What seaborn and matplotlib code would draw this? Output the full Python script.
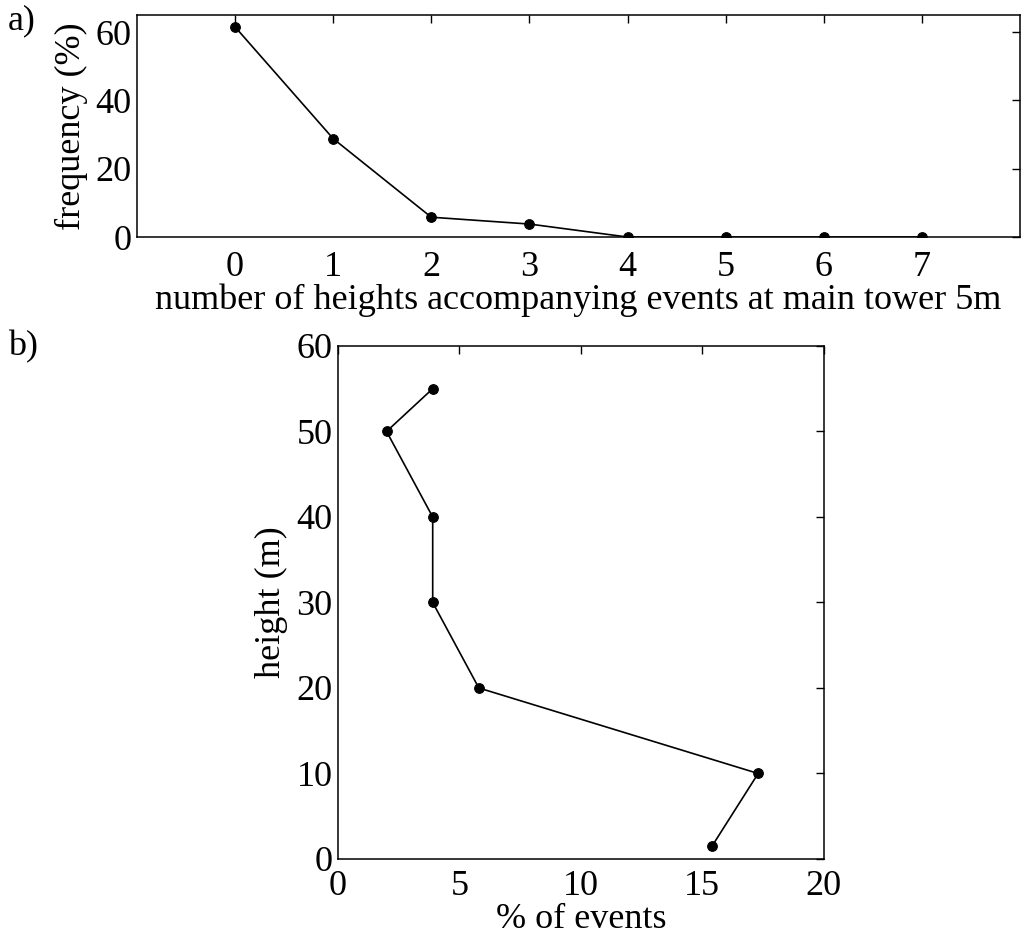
import matplotlib
matplotlib.use("Agg")
import matplotlib.pyplot as plt
import seaborn as sns
import pandas as pd

# Panel a data
n_heights = [0, 1, 2, 3, 4, 5, 6, 7]
frequency = [61.5, 28.8, 5.8, 3.8, 0, 0, 0, 0]

# Panel b data
heights = [1.5, 10, 20, 30, 40, 50, 55]
pct_events = [15.4, 17.3, 5.8, 3.9, 3.9, 2.0, 3.9]

sns.set_style("white")
plt.rcParams['font.family'] = ['Liberation Serif', 'DejaVu Serif']
plt.rcParams['mathtext.fontset'] = 'stix'
for k in ['text.color', 'axes.labelcolor', 'xtick.color', 'ytick.color', 'axes.edgecolor']:
    plt.rcParams[k] = 'black'

fig = plt.figure(figsize=(10.22, 9.35), dpi=100)

fs = 26

ax1 = fig.add_axes([0.134, 0.7465, 0.864, 0.2375])
df1 = pd.DataFrame({"n": n_heights, "f": frequency})
sns.lineplot(data=df1, x="n", y="f", ax=ax1, color="black", linewidth=1.2,
             marker="o", markersize=7, markeredgecolor="black", estimator=None)
ax1.set_xlim(-1, 8)
ax1.set_ylim(0, 65)
ax1.set_xticks(n_heights)
ax1.set_yticks([0, 20, 40, 60])
ax1.set_xlabel("number of heights accompanying events at main tower 5m", fontsize=fs, labelpad=0)
ax1.set_ylabel("frequency (%)", fontsize=fs, labelpad=5)

ax2 = fig.add_axes([0.3307, 0.0813, 0.4753, 0.5487])
df2 = pd.DataFrame({"p": pct_events, "h": heights})
sns.lineplot(data=df2, x="p", y="h", ax=ax2, color="black", linewidth=1.2,
             marker="o", markersize=7, markeredgecolor="black", sort=False, estimator=None)
ax2.set_xlim(0, 20)
ax2.set_ylim(0, 60)
ax2.set_xticks([0, 5, 10, 15, 20])
ax2.set_yticks([0, 10, 20, 30, 40, 50, 60])
ax2.set_xlabel("% of events", fontsize=fs, labelpad=0)
ax2.set_ylabel("height (m)", fontsize=fs, labelpad=6)

for ax in (ax1, ax2):
    ax.tick_params(direction="in", top=True, right=True, length=6, width=1,
                   labelsize=fs, color="black")
    ax.tick_params(axis="y", pad=4)
ax1.tick_params(axis="x", pad=10)
ax2.tick_params(axis="x", pad=8)
for ax in (ax1, ax2):
    for s in ax.spines.values():
        s.set_color("black")
        s.set_linewidth(1.1)

fig.text(0.008, 0.978, "a)", fontsize=fs, ha="left", va="center")
fig.text(0.008, 0.629, "b)", fontsize=fs, ha="left", va="center")

fig.savefig("out.png", dpi=100)
